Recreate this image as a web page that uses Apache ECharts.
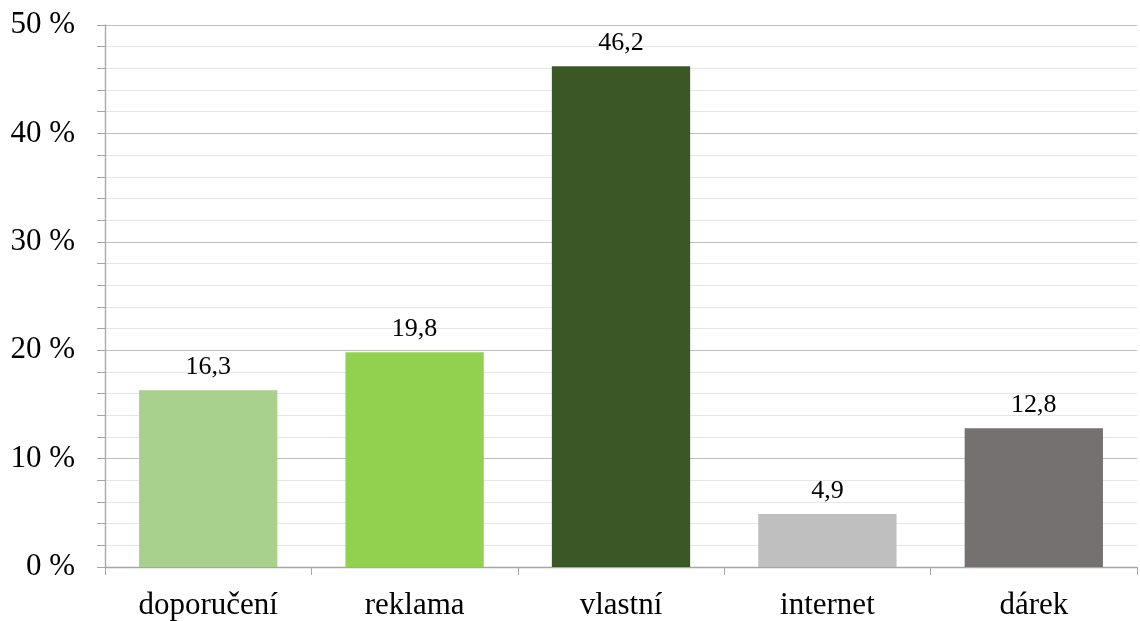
<!DOCTYPE html>
<html>
<head>
<meta charset="utf-8">
<script src="https://cdn.jsdelivr.net/npm/echarts@6/dist/echarts.min.js"></script>
<style>
html,body{margin:0;padding:0;background:#fff;}
#chart{width:1140px;height:621px;}
</style>
</head>
<body>
<div id="chart"></div>
<script>
// Source of the product, share of respondents (%)
const categories = ['doporučení', 'reklama', 'vlastní', 'internet', 'dárek'];
const shares = [16.3, 19.8, 46.2, 4.9, 12.8];
const barColors = ['#A9D18E', '#92D050', '#3A5725', '#BFBFBF', '#767171'];

const chart = echarts.init(document.getElementById('chart'));
const serif = '"Liberation Serif", "Times New Roman", serif';

chart.setOption({
  animation: false,
  grid: { left: 105, right: 3, top: 25, bottom: 53, containLabel: false },
  xAxis: {
    type: 'category',
    data: categories,
    boundaryGap: true,
    axisLine: { show: true, lineStyle: { color: '#A6A6A6', width: 1.3 } },
    axisTick: { show: true, alignWithLabel: false, length: 8, lineStyle: { color: '#A6A6A6' } },
    axisLabel: { fontFamily: serif, fontSize: 31, color: '#000', margin: 23 }
  },
  yAxis: {
    type: 'value',
    min: 0, max: 50, interval: 10,
    axisLine: { show: true, lineStyle: { color: '#A6A6A6', width: 1.3 } },
    axisTick: { show: true, length: 8, lineStyle: { color: '#A6A6A6' } },
    minorTick: { show: true, splitNumber: 5, length: 8, lineStyle: { color: '#A6A6A6' } },
    splitLine: { show: true, lineStyle: { color: '#BFBFBF', width: 1 } },
    minorSplitLine: { show: true, lineStyle: { color: '#E6E6E6', width: 1 } },
    axisLabel: { fontFamily: serif, fontSize: 31, color: '#000', margin: 30, formatter: '{value} %' }
  },
  series: [{
    type: 'bar',
    data: shares.map((v, i) => ({ value: v, itemStyle: { color: barColors[i] } })),
    barWidth: '67%',
    label: {
      show: true, position: 'top', distance: 10,
      fontFamily: serif, fontSize: 26, color: '#000',
      formatter: p => String(p.value).replace('.', ',')
    }
  }]
});
</script>
</body>
</html>
